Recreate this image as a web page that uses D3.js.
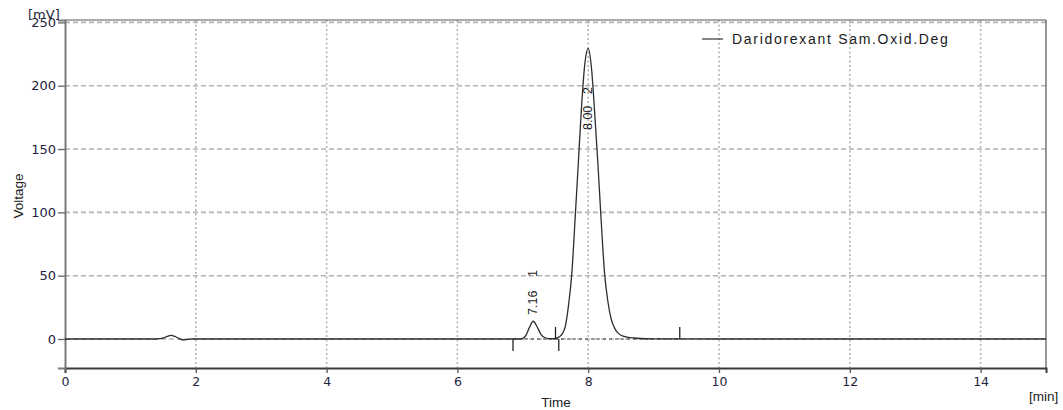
<!DOCTYPE html>
<html>
<head>
<meta charset="utf-8">
<script src="https://cdn.jsdelivr.net/npm/d3@7"></script>
<style>
  html, body { margin: 0; padding: 0; background: #fff; }
  svg { display: block; }
</style>
</head>
<body>
<svg id="chart" width="1063" height="410"></svg>
<script>
// Chromatogram trace: retention time [min] and detector signal [mV]
const traceTime = [
  0, 1.00, 1.40, 1.50, 1.56, 1.62, 1.68, 1.74, 1.80, 1.88, 1.95, 3.00, 5.00, 6.50,
  6.95, 7.00, 7.05, 7.10, 7.16, 7.22, 7.28, 7.34, 7.40, 7.45, 7.50, 7.55, 7.60,
  7.65, 7.70, 7.75, 7.80, 7.85, 7.90, 7.95, 8.00, 8.05, 8.10, 8.15, 8.20, 8.25,
  8.30, 8.35, 8.40, 8.45, 8.50, 8.60, 8.70, 8.80, 9.00, 10.0, 12.0, 15.0
];
const traceVoltage = [
  0, 0, 0, 0.6, 2.0, 2.8, 2.0, 0.5, -0.6, -0.3, 0, 0, 0, 0,
  0, 0.5, 3.0, 9.0, 14.0, 9.5, 3.5, 1.0, 0.3, 0.2, 0.4, 1.5, 3.8,
  10, 27, 52, 95, 140, 185, 218, 229.5, 214, 178, 137, 92, 52,
  30, 16, 9, 5, 3, 1.5, 0.8, 0.4, 0.1, 0, 0, 0
];

// Integrated peaks
const peakTimes = [7.16, 8.00];
const peakNumbers = ["1", "2"];
const peakLabelLevel = [19, 165];

// Integration event markers: time and direction (+1 up, -1 down)
const markerTimes = [6.85, 7.50, 7.55, 9.40];
const markerDirs = [-1, 1, -1, 1];
const baselineStart = 6.85, baselineEnd = 9.40;

// Axis ticks
const xTicks = [0, 2, 4, 6, 8, 10, 12, 14];
const yTicks = [0, 50, 100, 150, 200, 250];
const xDomain = [0, 15];
const yDomain = [-22.9, 251.9];

const seriesName = "Daridorexant Sam.Oxid.Deg";

const svg = d3.select("#chart");
const margin = { left: 65, right: 17, top: 20, bottom: 42 };
const W = 1063, H = 410;
const x = d3.scaleLinear().domain(xDomain).range([margin.left, W - margin.right]);
const y = d3.scaleLinear().domain(yDomain).range([H - margin.bottom, margin.top]);

const labelColor = "#1c2442";
const gridColor = "#b4b4b4";
const sansTick = "'DejaVu Sans', Verdana, sans-serif";
const sansText = "'Liberation Sans', Arial, sans-serif";

// Grid
svg.append("g").selectAll("line").data(yTicks).join("line")
  .attr("x1", x(xDomain[0])).attr("x2", x(xDomain[1]))
  .attr("y1", d => y(d)).attr("y2", d => y(d))
  .attr("stroke", gridColor).attr("stroke-width", 1.6)
  .attr("stroke-dasharray", "5,3");
svg.append("g").selectAll("line").data(xTicks.filter(d => d > 0)).join("line")
  .attr("x1", d => x(d)).attr("x2", d => x(d))
  .attr("y1", y(yDomain[1])).attr("y2", y(yDomain[0]))
  .attr("stroke", gridColor).attr("stroke-width", 1.6)
  .attr("stroke-dasharray", "2,2.5");

// Frame
svg.append("line")
  .attr("x1", x(xDomain[0])).attr("x2", x(xDomain[1]))
  .attr("y1", y(yDomain[1])).attr("y2", y(yDomain[1]))
  .attr("stroke", "#555").attr("stroke-width", 1.2);
svg.append("line")
  .attr("x1", x(xDomain[1])).attr("x2", x(xDomain[1]))
  .attr("y1", y(yDomain[1])).attr("y2", y(yDomain[0]))
  .attr("stroke", "#555").attr("stroke-width", 1.2);

// Axes
const xAxis = svg.append("g")
  .attr("transform", `translate(0,${y(yDomain[0])})`)
  .call(d3.axisBottom(x).tickValues(xTicks).tickSize(5).tickPadding(4).tickFormat(d3.format("d")));
const yAxis = svg.append("g")
  .attr("transform", `translate(${x(xDomain[0])},0)`)
  .call(d3.axisLeft(y).tickValues(yTicks).tickSize(7).tickPadding(2).tickFormat(d3.format("d")));

xAxis.select(".domain").attr("stroke", "#3a3a3a").attr("stroke-width", 2);
yAxis.select(".domain").attr("stroke", "#7a7a7a").attr("stroke-width", 2);
xAxis.selectAll(".tick line").attr("stroke", "#555").attr("stroke-width", 1.3);
yAxis.selectAll(".tick line").attr("stroke", "#666").attr("stroke-width", 1.3);
xAxis.selectAll(".tick text").attr("fill", labelColor).attr("font-size", 12.5)
  .attr("font-family", sansTick);
yAxis.selectAll(".tick text").attr("fill", labelColor).attr("font-size", 13)
  .attr("font-family", sansTick);

// Integration baseline
svg.append("line")
  .attr("x1", x(baselineStart)).attr("x2", x(baselineEnd))
  .attr("y1", y(0)).attr("y2", y(0))
  .attr("stroke", "#444").attr("stroke-width", 1.2)
  .attr("stroke-dasharray", "3,3");

// Trace
const pts = traceTime.map((t, i) => [t, traceVoltage[i]]);
svg.append("path")
  .datum(pts)
  .attr("fill", "none")
  .attr("stroke", "#2e2e2e")
  .attr("stroke-width", 1.3)
  .attr("d", d3.line().x(d => x(d[0])).y(d => y(d[1])).curve(d3.curveMonotoneX));

// Integration markers
svg.append("g").selectAll("line").data(markerTimes).join("line")
  .attr("x1", d => x(d)).attr("x2", d => x(d))
  .attr("y1", y(0))
  .attr("y2", (d, i) => y(0) - markerDirs[i] * 12)
  .attr("stroke", "#222").attr("stroke-width", 1.3);

// Peak labels (retention time and peak number, rotated)
const numberOffset = [38, 36];
peakTimes.forEach((t, i) => {
  const px = x(t) + 4, py = y(peakLabelLevel[i]);
  const g = svg.append("g").attr("transform", `translate(${px},${py}) rotate(-90)`);
  g.append("text").attr("x", 0).attr("y", 0)
    .attr("font-size", 12.5).attr("fill", "#1a1a22").attr("font-family", sansText)
    .text(d3.format(".2f")(t));
  g.append("text").attr("x", numberOffset[i]).attr("y", 0)
    .attr("font-size", 12.5).attr("fill", "#1a1a22").attr("font-family", sansText)
    .text(peakNumbers[i]);
});

// Axis titles
svg.append("text").attr("x", 28).attr("y", 19)
  .attr("font-size", 13).attr("fill", labelColor).attr("font-family", sansTick)
  .text("[mV]");
svg.append("text")
  .attr("transform", `translate(23,${(y(yDomain[0]) + y(yDomain[1])) / 2 + 2}) rotate(-90)`)
  .attr("text-anchor", "middle").attr("font-size", 13.5).attr("fill", "#222")
  .attr("font-family", sansText)
  .text("Voltage");
svg.append("text").attr("x", 556).attr("y", 407)
  .attr("text-anchor", "middle").attr("font-size", 13.5).attr("fill", "#222")
  .attr("font-family", sansText)
  .text("Time");
svg.append("text").attr("x", 1029).attr("y", 401)
  .attr("font-size", 13.5).attr("fill", "#222")
  .attr("font-family", sansText)
  .text("[min]");

// Legend
svg.append("line").attr("x1", 702).attr("x2", 723).attr("y1", 39).attr("y2", 39)
  .attr("stroke", "#444").attr("stroke-width", 1.3);
svg.append("text").attr("x", 732).attr("y", 44)
  .attr("font-size", 14).attr("fill", "#1a1a22")
  .attr("letter-spacing", 1.7)
  .attr("font-family", sansText)
  .text(seriesName);
</script>
</body>
</html>
